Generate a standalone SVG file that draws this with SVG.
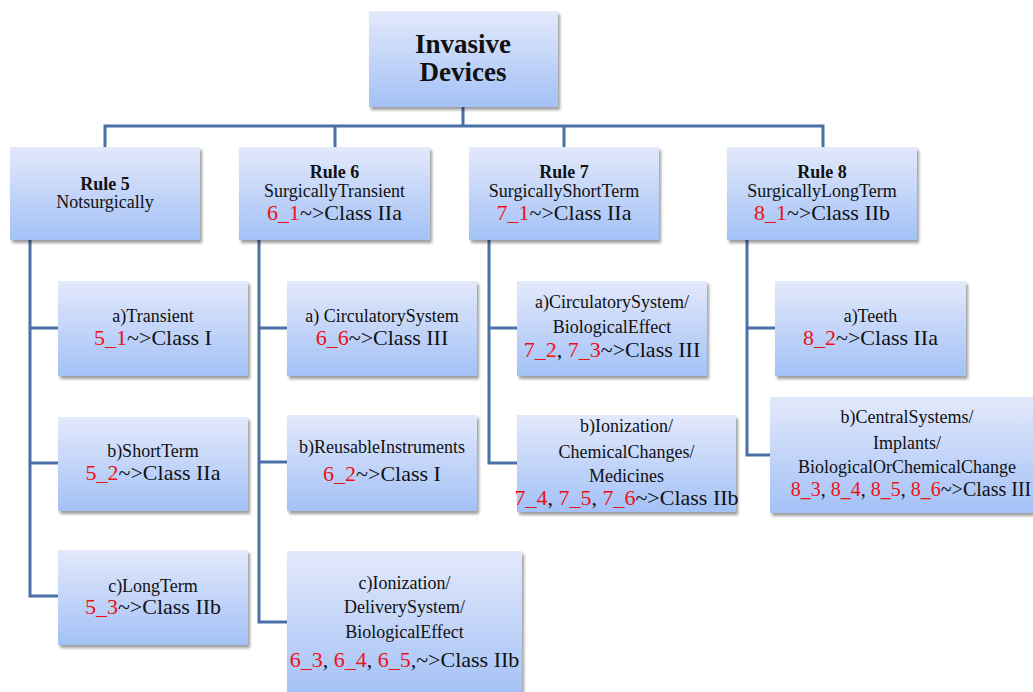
<svg xmlns="http://www.w3.org/2000/svg" width="1033" height="692" viewBox="0 0 1033 692">
  <defs>
    <linearGradient id="boxFill" x1="0" y1="0" x2="0" y2="1">
      <stop offset="0" stop-color="#e3e9fb"/>
      <stop offset="1" stop-color="#a3c1f6"/>
    </linearGradient>
    <filter id="shadow" x="-10%" y="-10%" width="125%" height="130%">
      <feDropShadow dx="2" dy="3" stdDeviation="1.4" flood-color="#000" flood-opacity="0.38"/>
    </filter>
  </defs>
  <style>
    .box { fill: url(#boxFill); filter: url(#shadow); }
    .wire { fill: none; stroke: #4a70a5; stroke-width: 3; stroke-linejoin: miter; stroke-linecap: square; }
    text { font-family: "Liberation Serif", "Times New Roman", serif; fill: #111; text-anchor: middle; }
    .title { font-size: 27px; font-weight: bold; }
    .head { font-size: 18px; font-weight: bold; }
    .sub { font-size: 18px; }
    .cls { font-size: 22px; }
    .cls-tight { font-size: 20px; }
    .code { fill: #ee1111; }
  </style>

  <rect width="1033" height="692" fill="#fff"/>

  <!-- connectors -->
  <g id="connectors" class="wire">
    <path d="M463 107 V126 M105 147 V126 H823 V147 M335 126 V147 M564 126 V147"/>
    <path d="M30 240 V596 H58 M30 328 H58 M30 463 H58"/>
    <path d="M259 240 V622 H287 M259 328 H287 M259 462 H287"/>
    <path d="M489 240 V463 H517 M489 328 H517"/>
    <path d="M747 240 V455 H770 M747 328 H775"/>
  </g>

  <!-- root -->
  <g id="invasive-devices">
    <rect class="box" x="369" y="11" width="189" height="96"/>
    <text class="title" x="463" y="53">Invasive</text>
    <text class="title" x="463" y="81">Devices</text>
  </g>

  <!-- rules -->
  <g id="rule5">
    <rect class="box" x="10" y="147" width="190" height="93"/>
    <text class="head" x="105" y="190">Rule 5</text>
    <text class="sub" x="105" y="208">Notsurgically</text>
  </g>
  <g id="rule6">
    <rect class="box" x="239" y="147" width="191" height="93"/>
    <text class="head" x="334.5" y="178">Rule 6</text>
    <text class="sub" x="334.5" y="197">SurgicallyTransient</text>
    <text class="cls" x="334.5" y="220"><tspan class="code">6_1</tspan>~&gt;Class IIa</text>
  </g>
  <g id="rule7">
    <rect class="box" x="469" y="147" width="190" height="93"/>
    <text class="head" x="564" y="178">Rule 7</text>
    <text class="sub" x="564" y="197">SurgicallyShortTerm</text>
    <text class="cls" x="564" y="220"><tspan class="code">7_1</tspan>~&gt;Class IIa</text>
  </g>
  <g id="rule8">
    <rect class="box" x="727" y="147" width="190" height="93"/>
    <text class="head" x="822" y="178">Rule 8</text>
    <text class="sub" x="822" y="197">SurgicallyLongTerm</text>
    <text class="cls" x="822" y="220"><tspan class="code">8_1</tspan>~&gt;Class IIb</text>
  </g>

  <!-- rule 5 cases -->
  <g id="r5a">
    <rect class="box" x="58" y="281" width="190" height="95"/>
    <text class="sub" x="153" y="322">a)Transient</text>
    <text class="cls" x="153" y="345"><tspan class="code">5_1</tspan>~&gt;Class I</text>
  </g>
  <g id="r5b">
    <rect class="box" x="58" y="417" width="190" height="94"/>
    <text class="sub" x="153" y="457">b)ShortTerm</text>
    <text class="cls" x="153" y="480"><tspan class="code">5_2</tspan>~&gt;Class IIa</text>
  </g>
  <g id="r5c">
    <rect class="box" x="58" y="550" width="190" height="95"/>
    <text class="sub" x="153" y="592">c)LongTerm</text>
    <text class="cls" x="153" y="614"><tspan class="code">5_3</tspan>~&gt;Class IIb</text>
  </g>

  <!-- rule 6 cases -->
  <g id="r6a">
    <rect class="box" x="287" y="281" width="190" height="95"/>
    <text class="sub" x="382" y="322">a) CirculatorySystem</text>
    <text class="cls" x="382" y="345"><tspan class="code">6_6</tspan>~&gt;Class III</text>
  </g>
  <g id="r6b">
    <rect class="box" x="287" y="415" width="190" height="96"/>
    <text class="sub" x="382" y="453">b)ReusableInstruments</text>
    <text class="cls" x="382" y="481"><tspan class="code">6_2</tspan>~&gt;Class I</text>
  </g>
  <g id="r6c">
    <rect class="box" x="287" y="551" width="235" height="145"/>
    <text class="sub" x="404.5" y="589">c)Ionization/</text>
    <text class="sub" x="404.5" y="613">DeliverySystem/</text>
    <text class="sub" x="404.5" y="638">BiologicalEffect</text>
    <text class="cls" x="404.5" y="667"><tspan class="code">6_3</tspan>, <tspan class="code">6_4</tspan>, <tspan class="code">6_5</tspan>,~&gt;Class IIb</text>
  </g>

  <!-- rule 7 cases -->
  <g id="r7a">
    <rect class="box" x="517" y="281" width="190" height="95"/>
    <text class="sub" x="612" y="308">a)CirculatorySystem/</text>
    <text class="sub" x="612" y="333">BiologicalEffect</text>
    <text class="cls" x="612" y="357"><tspan class="code">7_2</tspan>, <tspan class="code">7_3</tspan>~&gt;Class III</text>
  </g>
  <g id="r7b">
    <rect class="box" x="517" y="415" width="219" height="97"/>
    <text class="sub" x="626.5" y="432">b)Ionization/</text>
    <text class="sub" x="626.5" y="458">ChemicalChanges/</text>
    <text class="sub" x="626.5" y="482">Medicines</text>
    <text class="cls" x="626.5" y="505"><tspan class="code">7_4</tspan>, <tspan class="code">7_5</tspan>, <tspan class="code">7_6</tspan>~&gt;Class IIb</text>
  </g>

  <!-- rule 8 cases -->
  <g id="r8a">
    <rect class="box" x="775" y="281" width="191" height="95"/>
    <text class="sub" x="870.5" y="322">a)Teeth</text>
    <text class="cls" x="870.5" y="345"><tspan class="code">8_2</tspan>~&gt;Class IIa</text>
  </g>
  <g id="r8b">
    <rect class="box" x="770" y="397" width="274" height="116"/>
    <text class="sub" x="907" y="423">b)CentralSystems/</text>
    <text class="sub" x="907" y="449">Implants/</text>
    <text class="sub" x="907" y="473">BiologicalOrChemicalChange</text>
    <text class="cls-tight" x="911" y="496"><tspan class="code">8_3</tspan>, <tspan class="code">8_4</tspan>, <tspan class="code">8_5</tspan>, <tspan class="code">8_6</tspan>~&gt;Class III</text>
  </g>
</svg>
